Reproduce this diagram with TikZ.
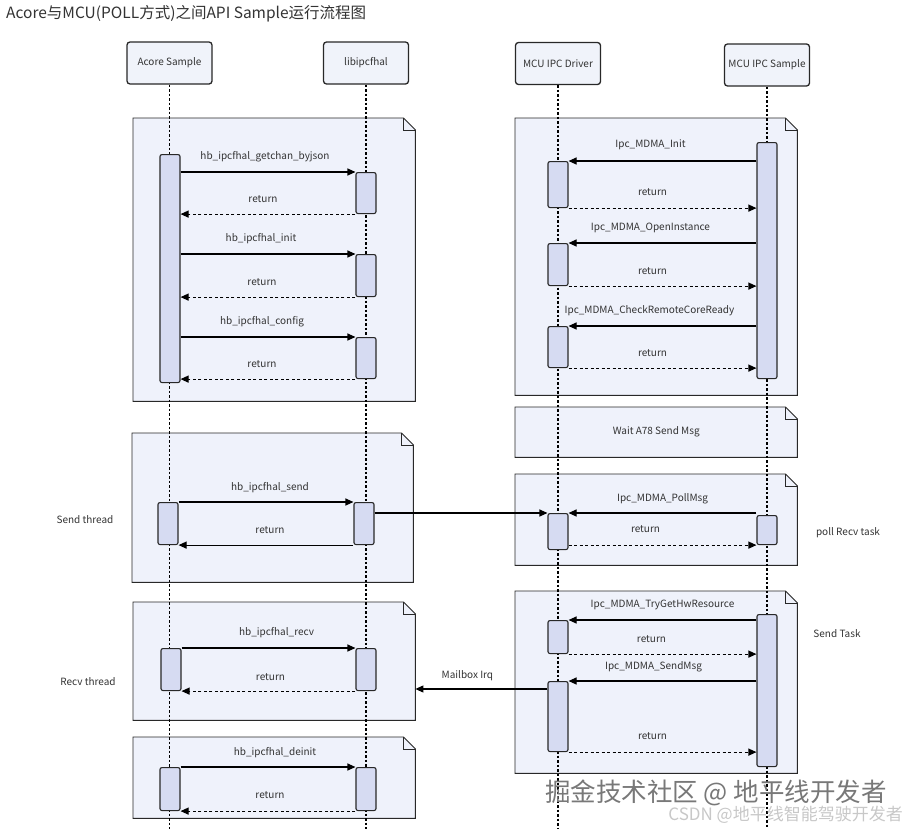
\documentclass[tikz,border=0pt]{standalone}
\usepackage{fontspec}
\setmainfont{Noto Sans CJK SC}
\usetikzlibrary{arrows.meta}
\definecolor{txt}{RGB}{51,51,51}
\definecolor{notefill}{RGB}{239,242,251}
\definecolor{headfill}{RGB}{240,243,250}
\definecolor{actfill}{RGB}{214,219,242}
\definecolor{linec}{RGB}{40,40,40}
\definecolor{wm}{RGB}{120,120,120}
\definecolor{wmlight}{RGB}{200,200,200}
\tikzset{
  header/.style={draw=linec, fill=headfill, line width=1.3pt, rounded corners=3pt,
    minimum width=85pt, minimum height=42pt, inner sep=0, text=txt},
  actbox/.style={draw=linec, fill=actfill, line width=1.1pt, rounded corners=2pt,
    minimum width=20pt, inner sep=0},
  noteline/.style={draw=linec, line width=0.9pt, fill=notefill},
  lifeline/.style={draw=black, line width=1.1pt, dash pattern=on 2.5pt off 2pt},
  call/.style={draw=black, line width=1.1pt, -{Triangle[length=8pt,width=7pt]}},
  retn/.style={call, dash pattern=on 3pt off 2.5pt},
  lbl/.style={text=txt, font=\fontsize{10}{12}\selectfont},
  side/.style={text=txt, font=\fontsize{10}{12}\selectfont},
}
\newcommand\mynote[5]{%
  \node[anchor=north west, inner sep=0, minimum width=#4-#2, minimum height=#5-#3] (#1) at (#2,#3) {};
  \draw[noteline] (#1.north west) -- ([xshift=-12pt]#1.north east) -- ([yshift=-12pt]#1.north east)
     -- (#1.south east) -- (#1.south west) -- cycle;
  \draw[noteline, fill=none] ([xshift=-12pt]#1.north east) -- ([xshift=-12pt,yshift=-12pt]#1.north east)
     -- ([yshift=-12pt]#1.north east);
}
\newcommand\myact[4]{%
  \node[actbox, anchor=north, minimum height=#4-#3] (#1) at (#2,#3) {};
}
\begin{document}
\begin{tikzpicture}[x=1pt,y=-1pt]
\useasboundingbox (0,0) rectangle (904,830);
\fill[white] (0,0) rectangle (904,830);

% title
\node[anchor=west, text=txt, font=\fontsize{15.5}{18}\selectfont, inner sep=0] (title) at (6,14)
  {Acore与MCU(POLL方式)之间API Sample运行流程图};

% notes
\mynote{n1}{133}{118}{415}{401}
\mynote{n2}{515}{118}{797}{395}
\mynote{n3}{515}{407}{797}{457}
\node[lbl] (n3t) at (n3.center) {Wait A78 Send Msg};
\mynote{n4}{132}{433}{413}{582}
\mynote{n5}{515}{474}{797}{565}
\mynote{n6}{133}{602}{415}{720}
\mynote{n7}{515}{591}{797}{773}
\mynote{n8}{133}{737}{415}{818}

% headers
\node[header] (hA) at (169.5,63) {Acore Sample};
\node[header] (hL) at (366,63) {libipcfhal};
\node[header] (hD) at (558,63.5) {MCU IPC Driver};
\node[header] (hS) at (767,65) {MCU IPC Sample};

% lifelines
\coordinate (bot) at (0,829);
\draw[lifeline] (hA.south) -- (hA.south |- bot);
\draw[lifeline] (hL.south) -- (hL.south |- bot);
\draw[lifeline] (hD.south) -- (hD.south |- bot);
\draw[lifeline] (hS.south) -- (hS.south |- bot);

% activations
\myact{a1}{170}{154}{382}
\myact{l1}{366}{172}{213}
\myact{l2}{366}{254}{296}
\myact{l3}{366}{337}{378}
\myact{s1}{767}{142}{378}
\myact{d1}{558}{161}{207}
\myact{d2}{558}{243}{285}
\myact{d3}{558}{326}{367}
\myact{a2}{168}{502}{544}
\myact{l4}{364}{502}{544}
\myact{d4}{558}{513}{549}
\myact{s2}{767}{515}{544}
\myact{a3}{171}{648}{690}
\myact{l5}{366}{648}{690}
\myact{s3}{767}{614}{766}
\myact{d5}{558}{620}{653}
\myact{d6}{558}{681}{751}
\myact{a4}{170}{767}{810}
\myact{l6}{366}{767}{810}

% messages: Acore <-> libipcfhal (init)
\draw[call] (a1.east |- l1.north west) -- (l1.north west)
  node[lbl, midway, yshift=15pt, xshift=-3pt] {hb\_ipcfhal\_getchan\_byjson};
\draw[retn] (l1.south west) -- (a1.east |- l1.south west)
  node[lbl, midway, yshift=15pt, xshift=-5pt] {return};
\draw[call] (a1.east |- l2.north west) -- (l2.north west)
  node[lbl, midway, yshift=15pt, xshift=-7pt] {hb\_ipcfhal\_init};
\draw[retn] (l2.south west) -- (a1.east |- l2.south west)
  node[lbl, midway, yshift=15pt, xshift=-6pt] {return};
\draw[call] (a1.east |- l3.north west) -- (l3.north west)
  node[lbl, midway, yshift=15pt, xshift=-6pt] {hb\_ipcfhal\_config};
\draw[retn] (l3.south west) -- (a1.east |- l3.south west)
  node[lbl, midway, yshift=15pt, xshift=-6pt] {return};

% MCU init
\draw[call] (s1.west |- d1.north east) -- (d1.north east)
  node[lbl, midway, yshift=16pt, xshift=-12pt] {Ipc\_MDMA\_Init};
\draw[retn] (d1.south east) -- (s1.west |- d1.south east)
  node[lbl, midway, yshift=16pt, xshift=-10pt] {return};
\draw[call] (s1.west |- d2.north east) -- (d2.north east)
  node[lbl, midway, yshift=15pt, xshift=-12pt] {Ipc\_MDMA\_OpenInstance};
\draw[retn] (d2.south east) -- (s1.west |- d2.south east)
  node[lbl, midway, yshift=15pt, xshift=-10pt] {return};
\draw[call] (s1.west |- d3.north east) -- (d3.north east)
  node[lbl, midway, yshift=15pt, xshift=-13pt] {Ipc\_MDMA\_CheckRemoteCoreReady};
\draw[retn] (d3.south east) -- (s1.west |- d3.south east)
  node[lbl, midway, yshift=15pt, xshift=-10pt] {return};

% send thread
\draw[call] (a2.north east) -- (l4.north west)
  node[lbl, midway, yshift=14pt, xshift=4pt] {hb\_ipcfhal\_send};
\draw[call] (l4.south west) -- (a2.south east)
  node[lbl, midway, yshift=15pt, xshift=4pt] {return};
\draw[call] (l4.east |- d4.north west) -- (d4.north west);
\node[side] (sendthr) at (85,520) {Send thread};

% poll recv task
\draw[call] (s2.west |- d4.north east) -- (d4.north east)
  node[lbl, midway, yshift=14pt] {Ipc\_MDMA\_PollMsg};
\draw[retn] (d4.east |- s2.south west) -- (s2.south west)
  node[lbl, midway, yshift=16pt, xshift=-17pt] {return};
\node[side] (pollrt) at (848,533) {poll Recv task};

% recv thread
\draw[call] (a3.north east) -- (l5.north west)
  node[lbl, midway, yshift=15pt, xshift=8pt] {hb\_ipcfhal\_recv};
\draw[retn] (l5.south west) -- (a3.south east)
  node[lbl, midway, yshift=14pt, xshift=2pt] {return};
\node[side] (recvthr) at (88,682) {Recv thread};

% send task
\draw[call] (s3.west |- d5.north east) -- (d5.north east)
  node[lbl, midway, yshift=15pt] {Ipc\_MDMA\_TryGetHwResource};
\draw[retn] (d5.south east) -- (s3.west |- d5.south east)
  node[lbl, midway, yshift=15pt, xshift=-11pt] {return};
\draw[call] (s3.west |- d6.north east) -- (d6.north east)
  node[lbl, midway, yshift=14pt, xshift=-9pt] {Ipc\_MDMA\_SendMsg};
\draw[retn] (d6.south east) -- (s3.west |- d6.south east)
  node[lbl, midway, yshift=16pt, xshift=-10pt] {return};
\node[side] (sendtask) at (837,634) {Send Task};

% mailbox irq
\coordinate (mb) at (0,689);
\draw[call] (d6.west |- mb) -- (n6.east |- mb)
  node[lbl, midway, yshift=13pt, xshift=-14pt] {Mailbox Irq};

% deinit
\draw[call] (a4.north east) -- (l6.north west)
  node[lbl, midway, yshift=14pt, xshift=7pt] {hb\_ipcfhal\_deinit};
\draw[retn] (l6.south west) -- (a4.south east)
  node[lbl, midway, yshift=16pt, xshift=2pt] {return};

% watermarks
\node[anchor=west, text=wm, font=\fontsize{25.5}{28}\selectfont, inner sep=0] (wm1) at (545,793)
  {掘金技术社区 @ 地平线开发者};
\node[anchor=east, text=wmlight, font=\fontsize{17}{19}\selectfont, inner sep=0] (wm2) at (903,815)
  {CSDN @地平线智能驾驶开发者};
\end{tikzpicture}
\end{document}
